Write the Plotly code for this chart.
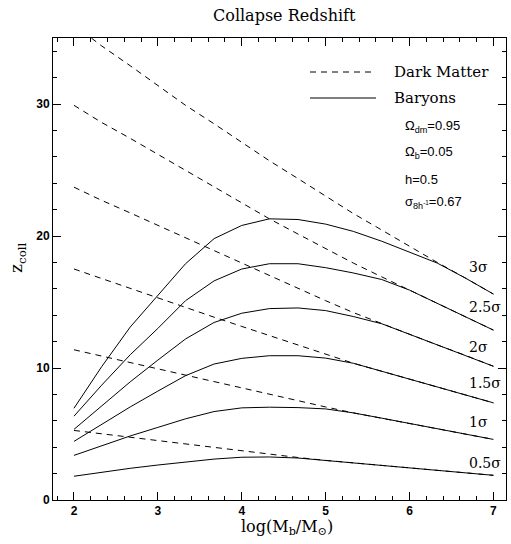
import plotly.graph_objects as go

# log(M_b/M_sun) sample points
mass = [2.0, 2.33, 2.67, 3.0, 3.33, 3.67, 4.0, 4.33, 4.67, 5.0, 5.33, 5.67, 6.0, 6.33, 6.67, 7.0]

sigma_labels = ["0.5σ", "1σ", "1.5σ", "2σ", "2.5σ", "3σ"]

# Dark matter collapse redshift (dashed)
dm_05 = [5.27, 5.01, 4.75, 4.49, 4.23, 3.97, 3.72, 3.47, 3.22, 3.0, 2.82, 2.64, 2.45, 2.25, 2.05, 1.87]
dm_1 = [11.38, 10.9, 10.42, 9.94, 9.46, 8.98, 8.5, 8.02, 7.54, 7.05, 6.6, 6.2, 5.8, 5.4, 5.0, 4.59]
dm_15 = [17.5, 16.77, 16.05, 15.33, 14.6, 13.85, 13.15, 12.45, 11.75, 11.05, 10.36, 9.75, 9.15, 8.55, 7.95, 7.36]
dm_2 = [23.7, 22.7, 21.75, 20.8, 19.85, 18.9, 17.95, 17.0, 16.05, 15.1, 14.2, 13.35, 12.55, 11.75, 10.95, 10.13]
dm_25 = [29.9, 28.6, 27.4, 26.2, 25.0, 23.75, 22.5, 21.3, 20.15, 19.05, 17.95, 16.9, 15.9, 14.9, 13.9, 12.87]
dm_3 = [36.0, 34.4, 32.9, 31.4, 29.9, 28.5, 27.1, 25.7, 24.35, 23.0, 21.7, 20.45, 19.2, 18.0, 16.8, 15.6]

# Baryon collapse redshift (solid)
b_05 = [1.8, 2.1, 2.4, 2.65, 2.85, 3.1, 3.24, 3.26, 3.18, 3.0, 2.82, 2.64, 2.45, 2.25, 2.05, 1.87]
b_1 = [3.38, 4.1, 4.85, 5.5, 6.15, 6.7, 6.98, 7.03, 7.0, 6.9, 6.6, 6.2, 5.8, 5.4, 5.0, 4.59]
b_15 = [4.44, 5.75, 7.05, 8.25, 9.42, 10.3, 10.73, 10.93, 10.93, 10.75, 10.36, 9.75, 9.15, 8.55, 7.95, 7.36]
b_2 = [5.35, 7.1, 8.95, 10.6, 12.2, 13.45, 14.15, 14.5, 14.55, 14.35, 13.9, 13.35, 12.55, 11.75, 10.95, 10.13]
b_25 = [6.35, 8.7, 11.0, 13.0, 15.1, 16.6, 17.5, 17.9, 17.9, 17.6, 17.2, 16.7, 15.9, 14.9, 13.9, 12.87]
b_3 = [6.95, 10.1, 13.1, 15.5, 17.9, 19.8, 20.8, 21.3, 21.25, 20.9, 20.35, 19.6, 18.8, 17.95, 16.8, 15.6]

# label positions for sigma annotations
label_x = 6.69
label_y = [2.78, 5.93, 8.84, 11.6, 14.64, 17.65]

dm_all = [dm_05, dm_1, dm_15, dm_2, dm_25, dm_3]
b_all = [b_05, b_1, b_15, b_2, b_25, b_3]

DASH = "6px,5px"
SERIF = "DejaVu Serif"
SANS = "Liberation Sans"

fig = go.Figure()
for ys in dm_all:
    fig.add_trace(go.Scatter(x=mass, y=ys, mode="lines",
                             line=dict(color="black", width=1, dash=DASH),
                             showlegend=False, hoverinfo="skip"))
for ys in b_all:
    fig.add_trace(go.Scatter(x=mass, y=ys, mode="lines",
                             line=dict(color="black", width=1),
                             showlegend=False, hoverinfo="skip"))

L, R, T, B = 53, 5, 38, 44
W, H = 511, 544
pw, ph = W - L - R, H - T - B


def px(x):
    return (x - L) / pw


def py(y):
    return (H - B - y) / ph


annotations = []
for lab, yv in zip(sigma_labels, label_y):
    annotations.append(dict(x=label_x, y=yv, xref="x", yref="y", text=lab,
                            showarrow=False, xanchor="left", yanchor="middle",
                            font=dict(family=SERIF, size=14, color="black")))

# title
annotations.append(dict(x=px(284), y=py(15), xref="paper", yref="paper",
                        text="Collapse Redshift", showarrow=False,
                        xanchor="center", yanchor="middle",
                        font=dict(family=SERIF, size=16, color="black")))
# axis titles
annotations.append(dict(x=px(287), y=py(527), xref="paper", yref="paper",
                        text="log(M<sub>b</sub>/M<sub>⊙</sub>)", showarrow=False,
                        xanchor="center", yanchor="middle",
                        font=dict(family=SERIF, size=16, color="black")))
annotations.append(dict(x=px(17), y=py(258), xref="paper", yref="paper",
                        text="z<sub>coll</sub>", showarrow=False, textangle=-90,
                        xanchor="center", yanchor="middle",
                        font=dict(family=SERIF, size=17, color="black")))

# legend text
annotations.append(dict(x=px(392), y=py(72), xref="paper", yref="paper",
                        text="Dark Matter", showarrow=False, xanchor="left", yanchor="middle",
                        font=dict(family=SERIF, size=15, color="black")))
annotations.append(dict(x=px(392), y=py(98), xref="paper", yref="paper",
                        text="Baryons", showarrow=False, xanchor="left", yanchor="middle",
                        font=dict(family=SERIF, size=15, color="black")))
params = [("Ω<sub>dm</sub>=0.95", 126), ("Ω<sub>b</sub>=0.05", 152),
          ("h=0.5", 179), ("σ<sub>8h<sup>-1</sup></sub>=0.67", 203)]
for t, yy in params:
    annotations.append(dict(x=px(403), y=py(yy), xref="paper", yref="paper",
                            text=t, showarrow=False, xanchor="left", yanchor="middle",
                            align="left",
                            font=dict(family=SANS, size=13, color="black")))

shapes = [
    dict(type="line", xref="paper", yref="paper", x0=px(310), x1=px(376), y0=py(72), y1=py(72),
         line=dict(color="black", width=1, dash=DASH)),
    dict(type="line", xref="paper", yref="paper", x0=px(310), x1=px(376), y0=py(98), y1=py(98),
         line=dict(color="black", width=1)),
]

tickfont = dict(family=SANS, size=12, color="black", weight="bold")

fig.update_layout(
    width=W, height=H,
    margin=dict(l=L, r=R, t=T, b=B),
    paper_bgcolor="white", plot_bgcolor="white",
    showlegend=False,
    annotations=annotations,
    shapes=shapes,
    xaxis=dict(range=[1.75, 7.15], tickvals=[2, 3, 4, 5, 6, 7], ticks="inside", ticklen=8,
               tickcolor="black", showline=True, linecolor="black", linewidth=1, mirror="allticks",
               showgrid=False, zeroline=False, tickfont=tickfont,
               minor=dict(tick0=2, dtick=0.2, ticks="inside", ticklen=4, tickcolor="black", showgrid=False)),
    yaxis=dict(range=[0, 35], tick0=0, dtick=10, ticks="inside", ticklen=8,
               tickcolor="black", showline=True, linecolor="black", linewidth=1, mirror="allticks",
               showgrid=False, zeroline=False, tickfont=tickfont,
               minor=dict(tick0=0, dtick=2, ticks="inside", ticklen=4, tickcolor="black", showgrid=False)),
)

fig.write_html("out.html", config={"displayModeBar": False},
               post_script="document.body.style.margin='0';document.body.style.padding='0';")
